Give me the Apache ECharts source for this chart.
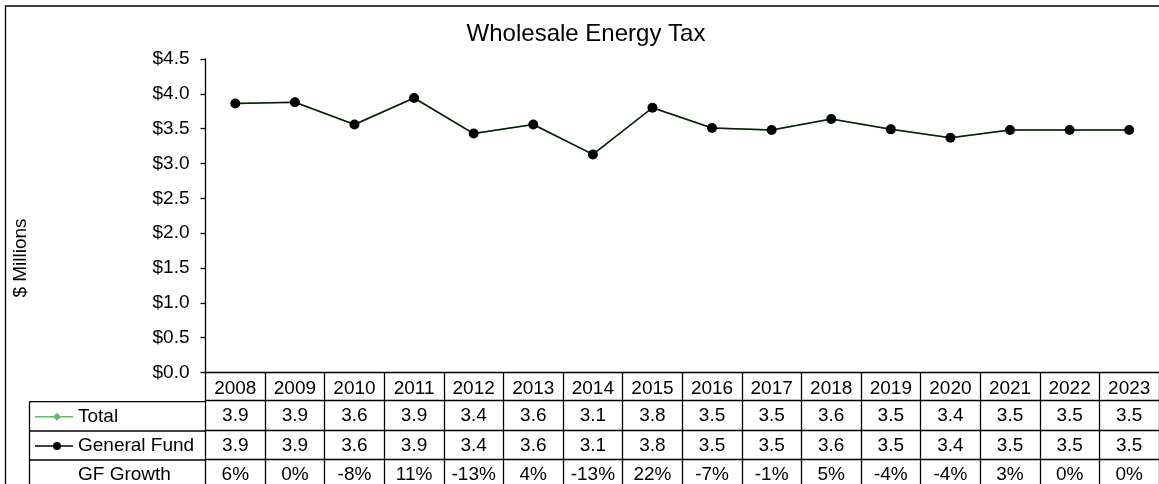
<!DOCTYPE html>
<html>
<head>
<meta charset="utf-8">
<script src="https://cdn.jsdelivr.net/npm/echarts@6/dist/echarts.min.js"></script>
<style>
html,body{margin:0;padding:0;background:#fff;}
#chart{width:1159px;height:484px;}
</style>
</head>
<body>
<div id="chart"></div>
<script>
// ---- data ----
const years = ['2008','2009','2010','2011','2012','2013','2014','2015','2016','2017','2018','2019','2020','2021','2022','2023'];
const totalVals = [3.86,3.88,3.56,3.94,3.43,3.56,3.13,3.80,3.51,3.48,3.64,3.49,3.37,3.48,3.48,3.48];
const gfVals    = [3.86,3.88,3.56,3.94,3.43,3.56,3.13,3.80,3.51,3.48,3.64,3.49,3.37,3.48,3.48,3.48];
const totalLabels  = ['3.9','3.9','3.6','3.9','3.4','3.6','3.1','3.8','3.5','3.5','3.6','3.5','3.4','3.5','3.5','3.5'];
const gfLabels     = ['3.9','3.9','3.6','3.9','3.4','3.6','3.1','3.8','3.5','3.5','3.6','3.5','3.4','3.5','3.5','3.5'];
const growthLabels = ['6%','0%','-8%','11%','-13%','4%','-13%','22%','-7%','-1%','5%','-4%','-4%','3%','0%','0%'];
const rowNames = ['Total','General Fund','GF Growth'];
const yMin = 0, yMax = 4.5, yStep = 0.5;
const titleText = 'Wholesale Energy Tax';
const yName = '$ Millions';

// ---- layout ----
const FONT = 'Liberation Sans, Arial, sans-serif';
const FS = 19;
const gridLeft = 205.5, gridTop = 59, gridW = 955.5, gridH = 314.5;
const axisY = gridTop + gridH;              // 373.5
const rowOffsets = [28.2, 57.5, 86.5];      // horizontal table lines below axis
const rowH = 29.2;
const tableLeft = 29.5;
const GREEN = '#66bb6a';

const chart = echarts.init(document.getElementById('chart'), null, {renderer:'canvas'});

function rowAxis(idx, labels){
  return {
    type:'category', data: years, gridIndex:0, position:'bottom',
    offset: rowOffsets[idx],
    axisLine:{show:true, lineStyle:{color:'#000', width:1.3}},
    axisTick:{show:false},
    axisLabel:{interval:0, margin:6, color:'#000', fontSize:FS, fontFamily:FONT,
      formatter:(v,i)=>labels[i]},
    splitLine:{show:false}
  };
}

const graphics = [];
// outer chart border
graphics.push({type:'rect', shape:{x:5.5,y:6,width:1162,height:520},
  style:{fill:'none', stroke:'#000', lineWidth:1.3}, silent:true});
// y axis name
graphics.push({type:'text', x:21, y:258, rotation:Math.PI/2,
  style:{text:yName, fill:'#000', font:`${FS}px ${FONT}`, textAlign:'center', textVerticalAlign:'middle'}});
// row label column borders
rowOffsets.forEach(o=>{
  graphics.push({type:'line', shape:{x1:tableLeft, y1:axisY+o, x2:gridLeft, y2:axisY+o},
    style:{stroke:'#000', lineWidth:1.3}, silent:true});
});
graphics.push({type:'line', shape:{x1:tableLeft, y1:axisY+rowOffsets[0], x2:tableLeft, y2:axisY+rowOffsets[0]+rowH*4},
  style:{stroke:'#000', lineWidth:1.3}, silent:true});
// row names + legend keys
rowNames.forEach((name,i)=>{
  const cy = axisY + rowOffsets[i] + rowH/2 + 0.5;
  graphics.push({type:'text', x:78, y:cy,
    style:{text:name, fill:'#000', font:`${FS}px ${FONT}`, textAlign:'left', textVerticalAlign:'middle'}});
  if(i===0){
    graphics.push({type:'line', shape:{x1:35,y1:cy,x2:73,y2:cy}, style:{stroke:GREEN,lineWidth:1.5}});
    graphics.push({type:'polygon', shape:{points:[[57,cy-4],[61,cy],[57,cy+4],[53,cy]]}, style:{fill:GREEN}});
  } else if(i===1){
    graphics.push({type:'line', shape:{x1:35,y1:cy,x2:73,y2:cy}, style:{stroke:'#000',lineWidth:1.5}});
    graphics.push({type:'circle', shape:{cx:57,cy:cy,r:4}, style:{fill:'#000'}});
  }
});

const option = {
  backgroundColor:'#fff',
  animation:false,
  title:{text:titleText, left:586, top:22, padding:0, textAlign:'center',
    textStyle:{fontSize:24, fontWeight:'normal', color:'#000', fontFamily:FONT}},
  grid:{left:gridLeft, top:gridTop, width:gridW, height:gridH, containLabel:false},
  xAxis:[
    {type:'category', data:years, gridIndex:0, position:'bottom', boundaryGap:true,
      axisLine:{show:true, lineStyle:{color:'#000', width:1.3}},
      axisTick:{show:true, inside:false, length:125, interval:0, lineStyle:{color:'#000', width:1.3}},
      axisLabel:{interval:0, margin:6.5, color:'#000', fontSize:FS, fontFamily:FONT},
      splitLine:{show:false}},
    rowAxis(0,totalLabels),
    rowAxis(1,gfLabels),
    rowAxis(2,growthLabels)
  ],
  yAxis:{type:'value', min:yMin, max:yMax, interval:yStep,
    axisLine:{show:true, lineStyle:{color:'#000', width:1.3}},
    axisTick:{show:true, inside:false, length:5, lineStyle:{color:'#000', width:1.3}},
    axisLabel:{margin:16, color:'#000', fontSize:FS, fontFamily:FONT,
      formatter:v=>'$'+v.toFixed(1)},
    splitLine:{show:false}},
  series:[
    {name:'Total', type:'line', xAxisIndex:0, data:totalVals, z:2,
      symbol:'diamond', symbolSize:9, itemStyle:{color:GREEN},
      lineStyle:{color:GREEN, width:1.5}},
    {name:'General Fund', type:'line', xAxisIndex:0, data:gfVals, z:3,
      symbol:'circle', symbolSize:10, itemStyle:{color:'#000'},
      lineStyle:{color:'#0d1a0d', width:1.5}}
  ],
  graphic: graphics
};
chart.setOption(option);
</script>
</body>
</html>
